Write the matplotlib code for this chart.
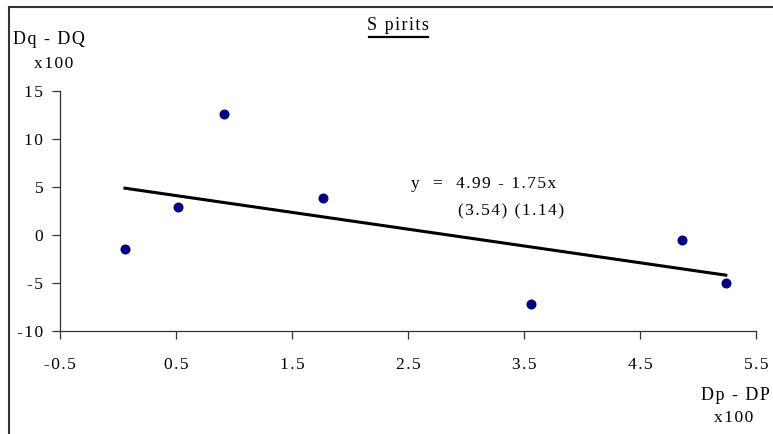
import numpy as np
import matplotlib
matplotlib.use("Agg")
import matplotlib.pyplot as plt
from matplotlib.lines import Line2D

# Spirits: change in quantity vs change in price (both x100)
dp = [0.06, 0.52, 0.91, 1.77, 3.56, 4.86, 5.24]
dq = [-1.5, 2.95, 12.6, 3.9, -7.15, -0.5, -5.0]

intercept = 4.99
slope = -1.75
se_intercept = 3.54
se_slope = 1.14

xtick_vals = [-0.5, 0.5, 1.5, 2.5, 3.5, 4.5, 5.5]
ytick_vals = [-10, -5, 0, 5, 10, 15]

plt.rcParams['font.family'] = ['Liberation Serif', 'DejaVu Serif']
plt.rcParams['axes.unicode_minus'] = False


def spaced(s):
    # loose letter spacing, old spreadsheet look
    return '\u200a'.join(s)


fig = plt.figure(figsize=(7.73, 4.34), dpi=100)
ax = fig.add_axes([0.0776, 0.2373, 0.9004, 0.5527])

ax.scatter(dp, dq, s=52, color='#000080', zorder=3, linewidths=0)

# fitted line across the range of the data
xs = np.array([min(dp), max(dp)])
ax.plot(xs, intercept + slope * xs, color='black', lw=2.2)

ax.set_xlim(-0.5, 5.5)
ax.set_ylim(-10, 15)
ax.set_xticks(xtick_vals)
ax.set_xticklabels([spaced('%g' % v) for v in xtick_vals])
ax.set_yticks(ytick_vals)
ax.set_yticklabels([spaced('%g' % v) for v in ytick_vals])

for side in ['top', 'right']:
    ax.spines[side].set_visible(False)
for side in ['left', 'bottom']:
    ax.spines[side].set_color('#333333')
    ax.spines[side].set_linewidth(0.9)
ax.tick_params(direction='out', length=6, width=0.9, color='#333333', labelsize=12.5)
ax.tick_params(axis='x', pad=13)
ax.tick_params(axis='y', pad=6)

ax.text(2.53, 5.3, spaced('y  =  %.2f - %.2fx' % (intercept, -slope)), fontsize=12.5,
        va='center')
ax.text(3.85, 2.5, spaced('(%.2f) (%.2f)' % (se_intercept, se_slope)), fontsize=12.5,
        ha='right', va='center')

# axis captions placed like the old spreadsheet layout
fig.text(398 / 773, 1 - 25 / 434, spaced('S pirits'), ha='center', va='center', fontsize=13)
fig.add_artist(Line2D([369 / 773, 428 / 773], [1 - 37 / 434, 1 - 37 / 434],
                      color='black', lw=1.6))
fig.text(13 / 773, 1 - 40 / 434, spaced('Dq - DQ'), ha='left', va='center', fontsize=13)
fig.text(54 / 773, 1 - 64 / 434, spaced('x100'), ha='center', va='center', fontsize=12.5)
fig.text(770 / 773, 1 - 395 / 434, spaced('Dp - DP'), ha='right', va='center', fontsize=13)
fig.text(734 / 773, 1 - 418 / 434, spaced('x100'), ha='center', va='center', fontsize=12.5)

# outer frame (top and left edges)
fig.add_artist(Line2D([9 / 773, 1.0], [1 - 7 / 434, 1 - 7 / 434], color='#333333', lw=1.5))
fig.add_artist(Line2D([9 / 773, 9 / 773], [0.0, 1 - 7 / 434], color='#333333', lw=1.5))

fig.savefig('out.png', dpi=100)
